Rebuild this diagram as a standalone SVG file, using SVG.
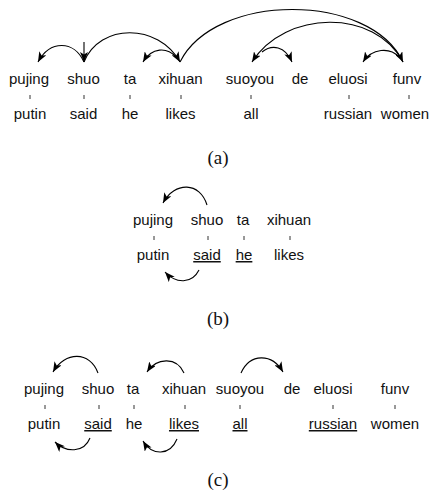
<svg xmlns="http://www.w3.org/2000/svg" width="436" height="495" viewBox="0 0 436 495">
<defs>
<marker id="ah" viewBox="0 0 10 8" refX="10" refY="4" markerWidth="10" markerHeight="8" markerUnits="userSpaceOnUse" orient="auto">
<path d="M0,0 L10,4 L0,8 L2.5,4 Z" fill="#000"/>
</marker>
<style>
.w{font-family:"Liberation Sans",Arial,Helvetica,sans-serif;font-size:15px;fill:#111;text-anchor:middle}
.u{text-decoration:underline}
.cap{font-family:"Liberation Serif","Times New Roman",serif;font-size:19px;fill:#111;text-anchor:middle}
.tk{stroke:#333;stroke-width:1}
.arc{fill:none;stroke:#000;stroke-width:1.1;marker-end:url(#ah)}
</style>
</defs>
<rect width="436" height="495" fill="#fff"/>

<g id="panel-a">
<g id="a-pujing"><text class="w" x="29" y="84">pujing</text><line class="tk" x1="30" y1="95" x2="30" y2="99"/><text class="w" x="30" y="119">putin</text></g>
<g id="a-shuo"><text class="w" x="83.5" y="84">shuo</text><line class="tk" x1="84" y1="95" x2="84" y2="99"/><text class="w" x="83.5" y="119">said</text></g>
<g id="a-ta"><text class="w" x="130" y="84">ta</text><line class="tk" x1="130" y1="95" x2="130" y2="99"/><text class="w" x="130" y="119">he</text></g>
<g id="a-xihuan"><text class="w" x="180.5" y="84">xihuan</text><line class="tk" x1="181" y1="95" x2="181" y2="99"/><text class="w" x="180.5" y="119">likes</text></g>
<g id="a-suoyou"><text class="w" x="250" y="84">suoyou</text><line class="tk" x1="251" y1="95" x2="251" y2="99"/><text class="w" x="251" y="119">all</text></g>
<g id="a-de"><text class="w" x="300" y="84">de</text></g>
<g id="a-eluosi"><text class="w" x="348" y="84">eluosi</text><line class="tk" x1="349" y1="95" x2="349" y2="99"/><text class="w" x="348" y="119">russian</text></g>
<g id="a-funv"><text class="w" x="407" y="84">funv</text><line class="tk" x1="409" y1="95" x2="409" y2="99"/><text class="w" x="405" y="119">women</text></g>
<text class="cap" x="218" y="164">(a)</text>
</g>

<g id="connectors-a">
<path class="arc" d="M84,42 L84,62"/>
<path class="arc" d="M84,62 C74,40 50,40 38,62"/>
<path class="arc" d="M84,62 C100,23 158,23 180,62"/>
<path class="arc" d="M176,57 C167,47 152,47 143,62"/>
<path class="arc" d="M180,62 C215,-8 370,-8 403,62"/>
<path class="arc" d="M403,62 C375,8 285,10 252,62"/>
<path class="arc" d="M262,52 C272,44 285,46 292,62"/>
<path class="arc" d="M399,57 C390,47 372,48 363,62"/>
</g>

<g id="panel-b">
<g id="b-pujing"><text class="w" x="153" y="225">pujing</text><line class="tk" x1="154" y1="236" x2="154" y2="240"/><text class="w" x="153" y="260">putin</text></g>
<g id="b-shuo"><text class="w" x="207" y="225">shuo</text><line class="tk" x1="208" y1="236" x2="208" y2="240"/><text class="w u" x="207" y="260">said</text></g>
<g id="b-ta"><text class="w" x="243" y="225">ta</text><line class="tk" x1="244" y1="236" x2="244" y2="240"/><text class="w u" x="244" y="260">he</text></g>
<g id="b-xihuan"><text class="w" x="289" y="225">xihuan</text><line class="tk" x1="290" y1="236" x2="290" y2="240"/><text class="w" x="289" y="260">likes</text></g>
<text class="cap" x="218" y="325">(b)</text>
</g>

<g id="connectors-b">
<path class="arc" d="M207,205 C200,182 175,181 163,203"/>
<path class="arc" d="M199,270 C192,284 176,284 165,272"/>
</g>

<g id="panel-c">
<g id="c-pujing"><text class="w" x="44" y="394">pujing</text><line class="tk" x1="45" y1="405" x2="45" y2="409"/><text class="w" x="44" y="429">putin</text></g>
<g id="c-shuo"><text class="w" x="98" y="394">shuo</text><line class="tk" x1="99" y1="405" x2="99" y2="409"/><text class="w u" x="98" y="429">said</text></g>
<g id="c-ta"><text class="w" x="133" y="394">ta</text><line class="tk" x1="134" y1="405" x2="134" y2="409"/><text class="w" x="134" y="429">he</text></g>
<g id="c-xihuan"><text class="w" x="184" y="394">xihuan</text><line class="tk" x1="185" y1="405" x2="185" y2="409"/><text class="w u" x="184" y="429">likes</text></g>
<g id="c-suoyou"><text class="w" x="240" y="394">suoyou</text><line class="tk" x1="240" y1="405" x2="240" y2="409"/><text class="w u" x="240" y="429">all</text></g>
<g id="c-de"><text class="w" x="292" y="394">de</text></g>
<g id="c-eluosi"><text class="w" x="333" y="394">eluosi</text><line class="tk" x1="333" y1="405" x2="333" y2="409"/><text class="w u" x="333" y="429">russian</text></g>
<g id="c-funv"><text class="w" x="395" y="394">funv</text><line class="tk" x1="395" y1="405" x2="395" y2="409"/><text class="w" x="395" y="429">women</text></g>
<text class="cap" x="218" y="486">(c)</text>
</g>

<g id="connectors-c">
<path class="arc" d="M98,373 C90,351 65,351 53,372"/>
<path class="arc" d="M184,373 C177,357 157,357 147,372"/>
<path class="arc" d="M90,438 C84,453 66,453 55,442"/>
<path class="arc" d="M177,439 C170,456 152,456 143,441"/>
<path class="arc" d="M241,373 C250,353 272,353 283,372"/>
</g>
</svg>
